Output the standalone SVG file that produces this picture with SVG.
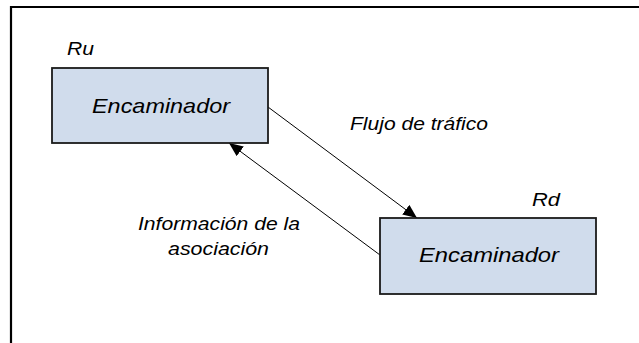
<svg xmlns="http://www.w3.org/2000/svg" width="639" height="343" viewBox="0 0 639 343">
  <defs>
    <marker id="ah" markerUnits="userSpaceOnUse" markerWidth="14" markerHeight="12" refX="14" refY="6" orient="auto">
      <path d="M0,0 L14,6 L0,12 z" fill="#000"/>
    </marker>
    <style>
      .box { fill: #D0DCEC; stroke: #1a1a1a; stroke-width: 1.8; }
      .t { font-family: "Liberation Sans", Arial, sans-serif; font-style: italic; fill: #000; }
      .big { font-size: 21px; }
      .lbl { font-size: 19px; }
      .conn { stroke: #000; stroke-width: 1; fill: none; marker-end: url(#ah); }
      .frame { stroke: #000; stroke-width: 2.2; fill: none; }
    </style>
  </defs>
  <rect width="639" height="343" fill="#fff"/>
  <g id="frame">
    <path class="frame" d="M11,343 L11,7 L639,7"/>
  </g>
  <g id="connectors">
    <line class="conn" x1="268" y1="107" x2="417" y2="218"/>
    <line class="conn" x1="380" y1="255" x2="229" y2="143"/>
  </g>
  <g id="node-ru">
    <rect class="box" x="52" y="68" width="216" height="75"/>
    <text class="t big" x="161" y="113" text-anchor="middle" textLength="138" lengthAdjust="spacingAndGlyphs">Encaminador</text>
    <text class="t lbl" x="67" y="55" textLength="27" lengthAdjust="spacingAndGlyphs">Ru</text>
  </g>
  <g id="node-rd">
    <rect class="box" x="380" y="218" width="216" height="76"/>
    <text class="t big" x="489" y="262" text-anchor="middle" textLength="140" lengthAdjust="spacingAndGlyphs">Encaminador</text>
    <text class="t lbl" x="532" y="206" textLength="28" lengthAdjust="spacingAndGlyphs">Rd</text>
  </g>
  <g id="labels">
    <text class="t lbl" x="350" y="130" textLength="138" lengthAdjust="spacingAndGlyphs">Flujo de tráfico</text>
    <text class="t lbl" x="138" y="230" textLength="162" lengthAdjust="spacingAndGlyphs">Información de la</text>
    <text class="t lbl" x="168" y="255" textLength="101" lengthAdjust="spacingAndGlyphs">asociación</text>
  </g>
</svg>
